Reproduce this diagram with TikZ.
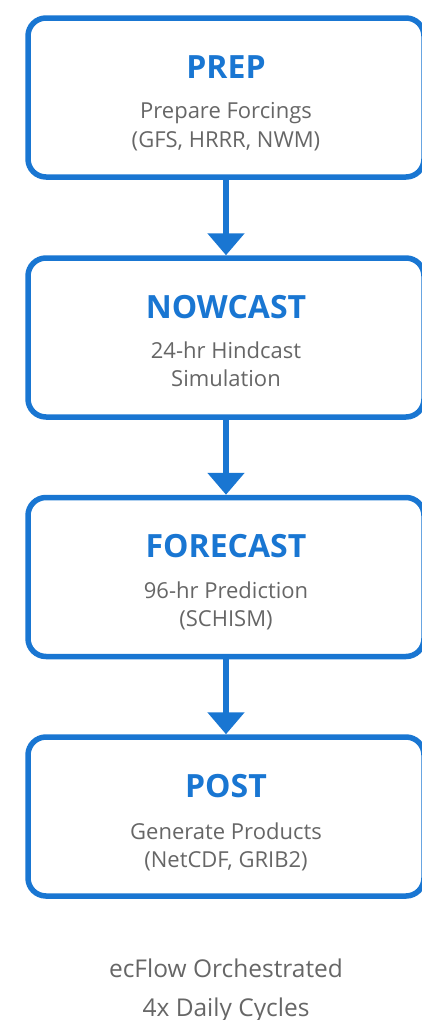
\documentclass[tikz,border=0pt]{standalone}
\usepackage{fontspec}
\setmainfont{Open Sans}
\usetikzlibrary{arrows.meta}
\definecolor{flowblue}{HTML}{1976D2}
\definecolor{txtgray}{HTML}{666666}
\tikzset{
  stagebox/.style={draw=flowblue, line width=5.5pt, rounded corners=18pt, minimum width=396pt, minimum height=159pt, inner sep=0pt},
  stagetitle/.style={anchor=base, text=flowblue, font=\fontsize{32}{38}\selectfont\bfseries, inner sep=0pt},
  stagetext/.style={anchor=base, text=txtgray, font=\fontsize{22}{26}\selectfont, inner sep=0pt},
  foottext/.style={anchor=base, text=txtgray, font=\fontsize{24.5}{29}\selectfont, inner sep=0pt},
  flowarrow/.style={draw=flowblue, line width=5.5pt, -{Triangle[width=36pt,length=22pt]}}
}
\begin{document}
\begin{tikzpicture}[x=1pt,y=-1pt]
\useasboundingbox (0,0) rectangle (422,1020);
\clip (0,0) rectangle (422,1020);
\node[stagebox] (b1) at (226,97.5) {};
\node[stagebox] (b2) at (226,337.5) {};
\node[stagebox] (b3) at (226,577) {};
\node[stagebox] (b4) at (226,816.5) {};
\node[stagetitle] (t1) at (226,78) {PREP};
\node[stagetext] (s1a) at (226,118.5) {Prepare Forcings};
\node[stagetext] (s1b) at (226,147.5) {(GFS, HRRR, NWM)};
\node[stagetitle] (t2) at (226,318) {NOWCAST};
\node[stagetext] (s2a) at (226,358.5) {24-hr Hindcast};
\node[stagetext] (s2b) at (226,386) {Simulation};
\node[stagetitle] (t3) at (226,557.5) {FORECAST};
\node[stagetext] (s3a) at (226,598) {96-hr Prediction};
\node[stagetext] (s3b) at (226,626.5) {(SCHISM)};
\node[stagetitle] (t4) at (226,797) {POST};
\node[stagetext] (s4a) at (226,839) {Generate Products};
\node[stagetext] (s4b) at (226,867) {(NetCDF, GRIB2)};
\node[foottext] (f1) at (226,977) {ecFlow Orchestrated};
\node[foottext] (f2) at (226,1016) {4x Daily Cycles};
\draw[flowarrow] (b1.south) -- (b2.north);
\draw[flowarrow] (b2.south) -- (b3.north);
\draw[flowarrow] (b3.south) -- (b4.north);
\end{tikzpicture}
\end{document}
